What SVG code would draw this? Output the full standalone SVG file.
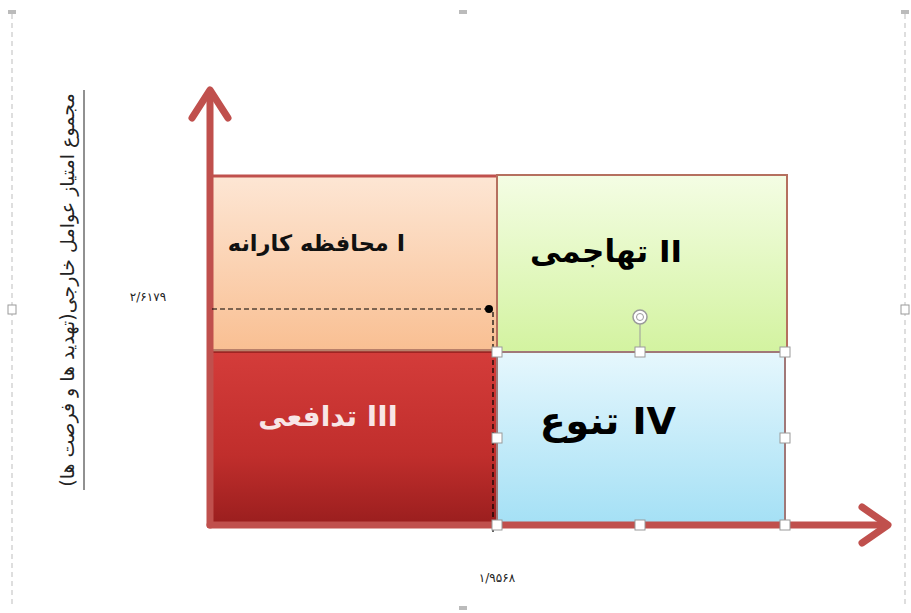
<svg xmlns="http://www.w3.org/2000/svg" width="911" height="613" viewBox="0 0 911 613">
<style>
.lbl{font-family:"DejaVu Sans","Noto Sans",sans-serif;font-weight:bold;direction:rtl;}
.num{font-family:"DejaVu Sans",sans-serif;font-size:12px;fill:#222;}
.axis{stroke:#c0504d;stroke-width:7;fill:none;stroke-linecap:round;stroke-linejoin:round;}
.h{fill:#fff;stroke:#9a9a9a;stroke-width:1;}
.dash{stroke:#000;stroke-width:1.2;stroke-dasharray:5,3;fill:none;}
.frame{stroke:#c8c8c8;stroke-width:1.2;stroke-dasharray:5,4;fill:none;}
</style>
<defs>
<linearGradient id="g1" x1="0" y1="0" x2="0" y2="1"><stop offset="0" stop-color="#fde6d4"/><stop offset="1" stop-color="#f9bf92"/></linearGradient>
<linearGradient id="g2" x1="0" y1="0" x2="0" y2="1"><stop offset="0" stop-color="#f4fde4"/><stop offset="1" stop-color="#d3f3a0"/></linearGradient>
<linearGradient id="g3" x1="0" y1="0" x2="0" y2="1"><stop offset="0" stop-color="#d43c3a"/><stop offset="0.6" stop-color="#c02e2c"/><stop offset="1" stop-color="#9a1e1e"/></linearGradient>
<linearGradient id="g4" x1="0" y1="0" x2="0" y2="1"><stop offset="0" stop-color="#e6f7fd"/><stop offset="1" stop-color="#a4e0f5"/></linearGradient>
</defs>
<g id="frame">
<line class="frame" x1="12" y1="14" x2="12" y2="606"/>
<line class="frame" x1="905" y1="14" x2="905" y2="606"/>
<rect class="h" x="8" y="305" width="8" height="9"/>
<rect class="h" x="901" y="305" width="8" height="9"/>
<rect x="8" y="10" width="8" height="4" fill="#bbb"/>
<rect x="459" y="10" width="8" height="4" fill="#bbb"/>
<rect x="901" y="10" width="8" height="4" fill="#bbb"/>
<rect x="459" y="606" width="8" height="4" fill="#bbb"/>
</g>
<g id="q1">
<rect x="211" y="176" width="286" height="176" fill="url(#g1)" stroke="#c9a08a" stroke-width="1"/>
<line x1="208" y1="176" x2="497" y2="176" stroke="#c0504d" stroke-width="3"/>
<line x1="211" y1="350" x2="497" y2="350" stroke="#b9806a" stroke-width="2"/>
<text class="lbl" x="405" y="251" font-size="22.5" fill="#111">I محافظه کارانه</text>
</g>
<g id="q2">
<rect x="497" y="175" width="290" height="177" fill="url(#g2)" stroke="#b5705f" stroke-width="2"/>
<text class="lbl" x="682" y="262" font-size="31" fill="#000">II تهاجمی</text>
</g>
<g id="q3">
<rect x="211" y="352" width="286" height="173" fill="url(#g3)" stroke="#8e1c1c" stroke-width="1.5"/>
<text class="lbl" x="398" y="426" font-size="28" fill="#f8e6e6">III تدافعی</text>
</g>
<g id="q4">
<rect x="497" y="352" width="288" height="173" fill="url(#g4)" stroke="#a07878" stroke-width="2"/>
<text class="lbl" x="676" y="434" font-size="38" fill="#000">IV تنوع</text>
</g>
<g id="connectors">
<polyline class="axis" points="210,525 210,92"/>
<polyline class="axis" points="192,118 210,90 228,118"/>
<polyline class="axis" points="210,525 886,525"/>
<polyline class="axis" points="862,507 888,525 862,543"/>
<line class="dash" x1="212" y1="309" x2="488" y2="309"/>
<circle cx="489" cy="309" r="4" fill="#000"/>
<line class="dash" x1="493" y1="312" x2="493" y2="532"/>
</g>
<g id="selection">
<line x1="640" y1="324" x2="640" y2="352" stroke="#9a9a9a" stroke-width="1"/>
<circle cx="640" cy="317" r="7" fill="#fff" stroke="#9a9a9a" stroke-width="1.5"/>
<circle cx="640" cy="317" r="3.5" fill="none" stroke="#9a9a9a" stroke-width="1"/>
<rect class="h" x="492" y="347" width="10" height="10"/>
<rect class="h" x="635" y="347" width="10" height="10"/>
<rect class="h" x="780" y="347" width="10" height="10"/>
<rect class="h" x="492" y="433" width="10" height="10"/>
<rect class="h" x="780" y="433" width="10" height="10"/>
<rect class="h" x="492" y="520" width="10" height="10"/>
<rect class="h" x="635" y="520" width="10" height="10"/>
<rect class="h" x="780" y="520" width="10" height="10"/>
</g>
<g id="labels">
<text class="num" x="148" y="301" text-anchor="middle">۲/۶۱۷۹</text>
<text class="num" x="497" y="582" text-anchor="middle">۱/۹۵۶۸</text>
<text transform="translate(74,290) rotate(-90)" text-anchor="middle" font-family="DejaVu Sans, sans-serif" font-size="19" fill="#222" direction="rtl">مجموع امتیاز عوامل خارجی(تهدید ها و فرصت ها)</text>
<line x1="84" y1="90" x2="84" y2="490" stroke="#222" stroke-width="1"/>
</g>
</svg>
